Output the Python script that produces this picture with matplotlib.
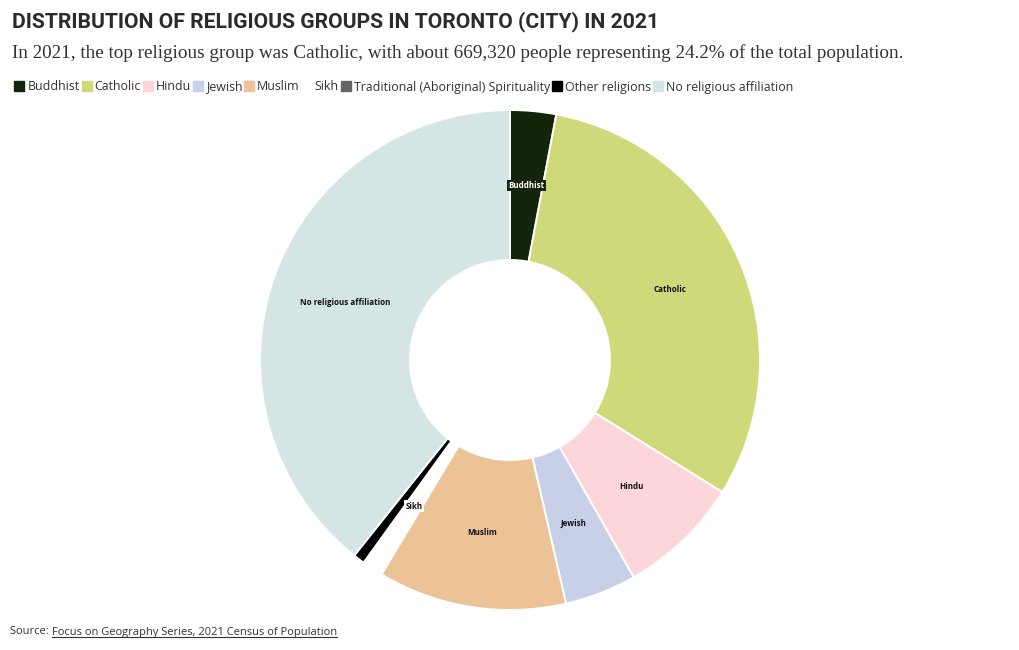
import matplotlib
matplotlib.use('Agg')
import matplotlib.pyplot as plt
from matplotlib.lines import Line2D
import numpy as np

groups = ['Buddhist', 'Catholic', 'Hindu', 'Jewish', 'Muslim', 'Sikh',
          'Traditional (Aboriginal) Spirituality', 'Other religions',
          'No religious affiliation']
counts = [64300, 669320, 171100, 100500, 264200, 28800, 700, 16200, 851200]
colors = ['#13260b', '#cfd97a', '#fcd6d8', '#c8d0e8', '#ecc396', '#ffffff',
          '#666666', '#000000', '#d3e5e5']
slice_labels = ['Buddhist', 'Catholic', 'Hindu', 'Jewish', 'Muslim', 'Sikh',
                '', '', 'No religious affiliation']

W, H = 1020, 650
fig = plt.figure(figsize=(W / 100, H / 100), dpi=100)

# donut: centre (510, 360) px, outer radius 250 px
R = 250
lim = 1.02
ax = fig.add_axes([(510 - R * lim) / W, (H - 360 - R * lim) / H,
                   2 * R * lim / W, 2 * R * lim / H])
wedges, _ = ax.pie(counts, colors=colors, startangle=90, counterclock=False,
                   wedgeprops=dict(width=0.6, edgecolor='white', linewidth=1.4))
ax.set_xlim(-lim, lim)
ax.set_ylim(-lim, lim)
ax.set_aspect('equal')
ax.axis('off')

for w, lab, c in zip(wedges, slice_labels, colors):
    if not lab:
        continue
    mid = np.deg2rad((w.theta1 + w.theta2) / 2)
    x, y = 0.7 * np.cos(mid), 0.7 * np.sin(mid)
    tc = 'white' if lab == 'Buddhist' else '#111111'
    ax.text(x, y, lab, ha='center', va='center', fontsize=5.8,
            fontweight='bold', family='Open Sans', color=tc,
            bbox=dict(boxstyle='square,pad=0.15', fc=c, ec='none'))

fig.text(12 / W, 1 - 22 / H, 'DISTRIBUTION OF RELIGIOUS GROUPS IN TORONTO (CITY) IN 2021',
         fontsize=15.2, fontweight='bold', family='Roboto', color='#2b2b2b',
         ha='left', va='center')
fig.text(12 / W, 1 - 53 / H,
         'In 2021, the top religious group was Catholic, with about 669,320 people '
         'representing 24.2% of the total population.',
         fontsize=13.8, family='Liberation Serif', color='#333333',
         ha='left', va='center')

handles = [Line2D([0], [0], marker='s', linestyle='none', markersize=7.5,
                  markerfacecolor=c, markeredgecolor=c) for c in colors]
leg = fig.legend(handles, groups, loc='center left', bbox_to_anchor=(8 / W, 1 - 87 / H),
                 ncol=len(groups), frameon=False, handlelength=0.85,
                 handletextpad=0.2, columnspacing=0.15, borderpad=0,
                 prop={'family': 'Open Sans', 'size': 8.95})
for t in leg.get_texts():
    t.set_color('#333333')

src = fig.text(10 / W, 1 - 632 / H, 'Source: ', fontsize=8, family='Open Sans',
               color='#333333', ha='left', va='center')
fig.canvas.draw()
r = fig.canvas.get_renderer()
bb = src.get_window_extent(r)
link = fig.text(bb.x1 / W, 1 - 632 / H, 'Focus on Geography Series, 2021 Census of Population',
                fontsize=8, family='Open Sans', color='#333333', ha='left', va='center')
lb = link.get_window_extent(r)
fig.add_artist(Line2D([lb.x0 / W, lb.x1 / W], [(lb.y0 + 1) / H, (lb.y0 + 1) / H],
                      color='#333333', linewidth=0.8))

fig.savefig('out.png', dpi=100, facecolor='white')
